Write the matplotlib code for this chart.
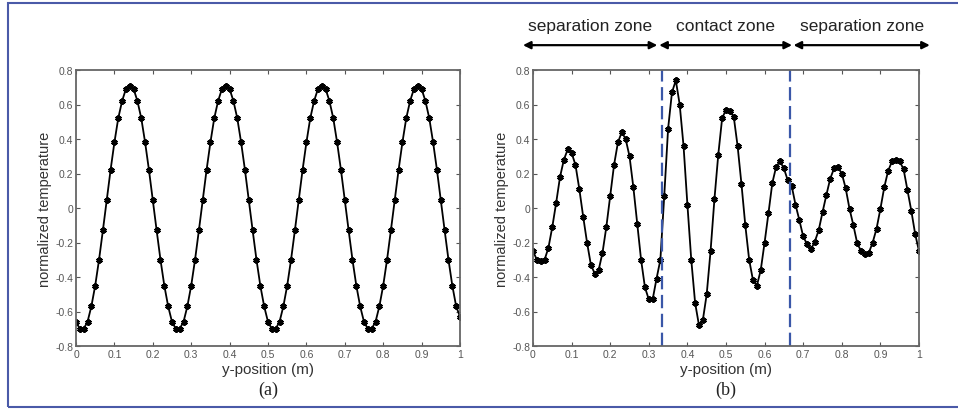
import matplotlib
matplotlib.use('Agg')

import matplotlib.pyplot as plt
import matplotlib.transforms as mtransforms
from matplotlib.patches import Rectangle


# === data (x = 0 .. 1 step 0.01) ===
y_pos = [i / 100 for i in range(101)]

temp_a = [
    -0.66, -0.70, -0.70, -0.66, -0.57, -0.45, -0.30, -0.13, 0.045, 0.22, 0.38, 0.52, 0.62, 0.69,
    0.71, 0.69, 0.62, 0.52, 0.38, 0.22, 0.045, -0.13, -0.30, -0.45, -0.57, -0.66, -0.70, -0.70,
    -0.66, -0.57, -0.45, -0.30, -0.13, 0.045, 0.22, 0.38, 0.52, 0.62, 0.69,
    0.71, 0.69, 0.62, 0.52, 0.38, 0.22, 0.045, -0.13, -0.30, -0.45, -0.57, -0.66, -0.70, -0.70,
    -0.66, -0.57, -0.45, -0.30, -0.13, 0.045, 0.22, 0.38, 0.52, 0.62, 0.69,
    0.71, 0.69, 0.62, 0.52, 0.38, 0.22, 0.045, -0.13, -0.30, -0.45, -0.57, -0.66, -0.70, -0.70,
    -0.66, -0.57, -0.45, -0.30, -0.13, 0.045, 0.22, 0.38, 0.52, 0.62, 0.69,
    0.71, 0.69, 0.62, 0.52, 0.38, 0.22, 0.045, -0.13, -0.30, -0.45, -0.57, -0.63,
]

temp_b = [
    -0.25, -0.30, -0.31, -0.30, -0.23, -0.11, 0.03, 0.18, 0.28, 0.34,
    0.32, 0.25, 0.11, -0.05, -0.20, -0.33, -0.38, -0.36, -0.26, -0.11,
    0.07, 0.25, 0.38, 0.44, 0.40, 0.30, 0.12, -0.09, -0.30, -0.46,
    -0.53, -0.53, -0.41, -0.30, 0.07, 0.46, 0.67, 0.74, 0.60, 0.36,
    0.02, -0.30, -0.55, -0.68, -0.65, -0.50, -0.25, 0.05, 0.31, 0.52,
    0.57, 0.56, 0.53, 0.36, 0.14, -0.10, -0.30, -0.42, -0.45, -0.36,
    -0.20, -0.03, 0.145, 0.24, 0.27, 0.23, 0.16, 0.13, 0.02, -0.07,
    -0.165, -0.21, -0.24, -0.195, -0.13, -0.025, 0.075, 0.17, 0.23, 0.235,
    0.20, 0.115, -0.005, -0.10, -0.205, -0.25, -0.265, -0.26, -0.20, -0.12,
    -0.005, 0.12, 0.215, 0.27, 0.28, 0.27, 0.225, 0.105, -0.015, -0.15,
    -0.25,
]

zone_bounds = [1 / 3, 2 / 3]
zone_labels = ['separation zone', 'contact zone', 'separation zone']
zone_spans = [(-0.026, 0.322), (0.327, 0.671), (0.675, 1.028)]

x_ticks = [0, 0.1, 0.2, 0.3, 0.4, 0.5, 0.6, 0.7, 0.8, 0.9, 1]
x_labels = ['0', '0.1', '0.2', '0.3', '0.4', '0.5', '0.6', '0.7', '0.8', '0.9', '1']
y_ticks = [-0.8, -0.6, -0.4, -0.2, 0, 0.2, 0.4, 0.6, 0.8]
y_labels = ['-0.8', '-0.6', '-0.4', '-0.2', '0', '0.2', '0.4', '0.6', '0.8']

plt.rcParams['font.family'] = ['Liberation Sans', 'DejaVu Sans']

fig = plt.figure(figsize=(9.58, 4.10), dpi=100)

ax_a = fig.add_axes([76 / 958, 63 / 410, 384 / 958, 276 / 410])
ax_b = fig.add_axes([533 / 958, 63 / 410, 386 / 958, 276 / 410])

marker = (6, 2, 0)


def style_axes(ax, tag):
    ax.set_xlim(0, 1)
    ax.set_ylim(-0.8, 0.8)
    ax.set_xticks(x_ticks)
    ax.set_xticklabels(x_labels)
    ax.set_yticks(y_ticks)
    ax.set_yticklabels(y_labels)
    ax.tick_params(direction='in', length=3, width=0.8, top=True, right=True,
                   labelsize=7.5, labelcolor='#555555', color='#555555', pad=2)
    for s in ax.spines.values():
        s.set_color('#666666')
        s.set_linewidth(1.3)
    ax.set_xlabel('y-position (m)', fontsize=11, color='#333333', labelpad=2)
    ax.set_ylabel('normalized temperature', fontsize=10.5, color='#333333', labelpad=2)
    ax.text(0.5, -0.157, tag, transform=ax.transAxes, ha='center', va='center',
            fontsize=13, family='Liberation Serif', color='#222222')


ax_a.plot(y_pos, temp_a, color='black', lw=1.3, marker=marker, ms=4.5, mew=1.6)
style_axes(ax_a, '(a)')

ax_b.plot(y_pos, temp_b, color='black', lw=1.3, marker=marker, ms=4.5, mew=1.6)
for xb in zone_bounds:
    ax_b.axvline(xb, color='#3a57a8', lw=1.6, dashes=(6, 2.5))
style_axes(ax_b, '(b)')

# zone arrows above panel (b)
trans = mtransforms.blended_transform_factory(ax_b.transData, ax_b.transAxes)
for (x0, x1), lab in zip(zone_spans, zone_labels):
    ax_b.annotate('', xy=(x1, 1.09), xytext=(x0, 1.09), xycoords=trans, textcoords=trans,
                  arrowprops=dict(arrowstyle='<|-|>', color='black', lw=1.6,
                                  mutation_scale=11, shrinkA=0, shrinkB=0),
                  annotation_clip=False)
    ax_b.text((x0 + x1) / 2, 1.16, lab, transform=trans, ha='center', va='center',
              fontsize=12.5, color='#222222')

# blue frame round the figure
fig.patches.append(Rectangle((8 / 958, 2 / 410), 1.0, 404 / 410, transform=fig.transFigure,
                             fill=False, edgecolor='#4a5aa8', lw=1.5))

fig.savefig('out.png', dpi=100)
